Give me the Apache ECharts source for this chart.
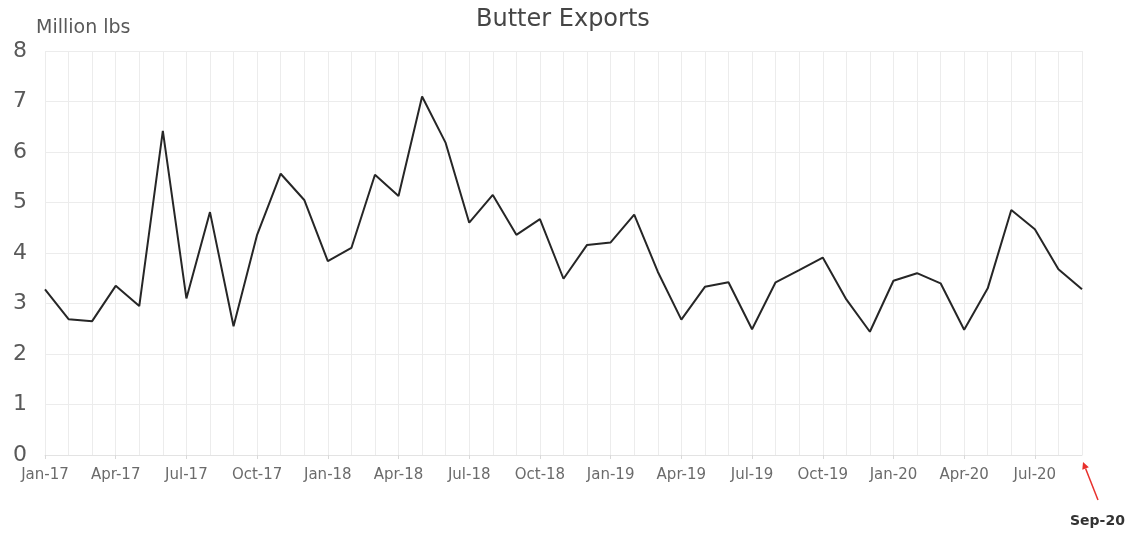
<!DOCTYPE html>
<html>
<head>
<meta charset="utf-8">
<script src="https://cdn.jsdelivr.net/npm/echarts@6/dist/echarts.min.js"></script>
<style>
  html, body { margin: 0; padding: 0; background: #fff; }
  #chart { width: 1134px; height: 538px; }
</style>
</head>
<body>
<div id="chart"></div>
<script>
// months Jan-17 .. Sep-20
const months = [
  'Jan-17', 'Feb-17', 'Mar-17', 'Apr-17', 'May-17', 'Jun-17', 'Jul-17', 'Aug-17', 'Sep-17', 'Oct-17', 'Nov-17', 'Dec-17',
  'Jan-18', 'Feb-18', 'Mar-18', 'Apr-18', 'May-18', 'Jun-18', 'Jul-18', 'Aug-18', 'Sep-18', 'Oct-18', 'Nov-18', 'Dec-18',
  'Jan-19', 'Feb-19', 'Mar-19', 'Apr-19', 'May-19', 'Jun-19', 'Jul-19', 'Aug-19', 'Sep-19', 'Oct-19', 'Nov-19', 'Dec-19',
  'Jan-20', 'Feb-20', 'Mar-20', 'Apr-20', 'May-20', 'Jun-20', 'Jul-20', 'Aug-20', 'Sep-20'
];

// million lbs
const exports = [
  3.28, 2.69, 2.65, 3.35, 2.95, 6.42, 3.10, 4.81, 2.55, 4.36, 5.57, 5.05,
  3.84, 4.10, 5.55, 5.13, 7.10, 6.18, 4.60, 5.15, 4.36, 4.67, 3.49, 4.16,
  4.21, 4.76, 3.63, 2.68, 3.33, 3.42, 2.49, 3.42, 3.66, 3.91, 3.08, 2.44,
  3.45, 3.60, 3.40, 2.48, 3.30, 4.85, 4.47, 3.68, 3.28
];

const noteLabel = 'Sep-20';

const FONT = 'DejaVu Sans, Liberation Sans, sans-serif';

const chart = echarts.init(document.getElementById('chart'));

chart.setOption({
  animation: false,
  backgroundColor: '#fff',
  textStyle: { fontFamily: FONT },
  title: {
    text: 'Butter Exports',
    left: 471,
    top: 3,
    textStyle: { fontSize: 24, fontWeight: 'normal', color: '#454545' }
  },
  grid: { left: 45, right: 52, top: 51, bottom: 83 },
  xAxis: {
    type: 'category',
    data: months,
    boundaryGap: false,
    axisLine: { lineStyle: { color: '#e3e3e3' } },
    axisTick: { show: true, interval: 2, length: 4, lineStyle: { color: '#d9d9d9' } },
    axisLabel: { interval: 2, color: '#6b6b6b', fontSize: 15, margin: 13 },
    splitLine: { show: true, interval: 0, lineStyle: { color: '#ececec' } }
  },
  yAxis: {
    type: 'value',
    min: 0,
    max: 8,
    interval: 1,
    name: 'Million lbs',
    nameLocation: 'end',
    nameGap: 13,
    nameTextStyle: { color: '#595959', fontSize: 19, align: 'left', padding: [0, 0, 0, -9] },
    axisLine: { show: false },
    axisTick: { show: false },
    axisLabel: { color: '#595959', fontSize: 22, margin: 18 },
    splitLine: { lineStyle: { color: '#ececec' } }
  },
  series: [{
    type: 'line',
    data: exports,
    symbol: 'none',
    lineStyle: { color: '#262626', width: 2 }
  }]
});

// ==============================
// Sep-20 annotation arrow
// ==============================
const end = chart.convertToPixel({ seriesIndex: 0 }, [months.length - 1, 0]);
const tipX = end[0] + 1, tipY = end[1] + 7;
const tailX = end[0] + 16, tailY = end[1] + 45;
const ang = Math.atan2(tipY - tailY, tipX - tailX);
const ah = 7, aw = 3.5;
const bx = tipX - ah * Math.cos(ang), by = tipY - ah * Math.sin(ang);

chart.setOption({
  graphic: [
    {
      type: 'line',
      shape: { x1: tailX, y1: tailY, x2: bx, y2: by },
      style: { stroke: '#e8302c', lineWidth: 1.5 }
    },
    {
      type: 'polygon',
      shape: {
        points: [
          [tipX, tipY],
          [bx + aw * Math.sin(ang), by - aw * Math.cos(ang)],
          [bx - aw * Math.sin(ang), by + aw * Math.cos(ang)]
        ]
      },
      style: { fill: '#e8302c' }
    },
    {
      type: 'text',
      left: 1070,
      top: 514,
      style: { text: noteLabel, fill: '#333', font: 'bold 14px ' + FONT }
    }
  ]
});
</script>
</body>
</html>
